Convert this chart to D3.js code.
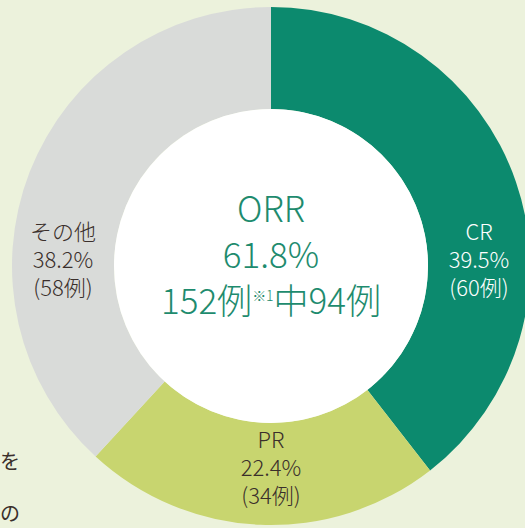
<!DOCTYPE html>
<html>
<head>
<meta charset="utf-8">
<script src="https://cdn.jsdelivr.net/npm/d3@7"></script>
<style>
  body { margin: 0; background: #ecf2dc; }
  svg { display: block; }
  text { font-family: "Noto Sans CJK JP", "Noto Sans", sans-serif; }
</style>
</head>
<body>
<div id="chart"></div>
<script>
// data
var categories = ["CR", "PR", "その他"];
var counts = [60, 34, 58];
var percents = ["39.5%", "22.4%", "38.2%"];
var centerLines = ["ORR", "61.8%"];
var centerTotal = 152, centerHits = 94;

var width = 525, height = 528;
var cx = 271, cy = 266,
    outerR = 259, innerR = 157;

var color = d3.scaleOrdinal()
  .domain(categories)
  .range(["#0c8a6e", "#c8d56f", "#d9dbd9"]);
var labelColor = d3.scaleOrdinal()
  .domain(categories)
  .range(["#ffffff", "#3a2f2b", "#3a2f2b"]);

var svg = d3.select("#chart")
  .append("svg")
    .attr("width", width)
    .attr("height", height);

// fragments of the surrounding page text at the left edge
svg.append("text").attr("x", 0).attr("y", 469)
  .style("font-size", "20px").style("fill", "#3a2f2b").text("を");
svg.append("text").attr("x", 0).attr("y", 521)
  .style("font-size", "20px").style("fill", "#3a2f2b").text("の");

var g = svg.append("g")
  .attr("transform", "translate(" + cx + "," + cy + ")");

var pie = d3.pie().sort(null).value(function(d) { return d.count; });
var arc = d3.arc().innerRadius(innerR).outerRadius(outerR);

var data = categories.map(function(c, i) {
  return {name: c, count: counts[i], pct: percents[i]};
});
var arcs = pie(data);

g.selectAll("path.slice")
  .data(arcs)
  .enter()
  .append("path")
    .attr("class", "slice")
    .attr("d", arc)
    .style("fill", function(d) { return color(d.data.name); });

// white hole
g.append("circle").attr("r", innerR).style("fill", "#ffffff");

// labels sit at mid-ring, snapped to the nearest quarter direction
var midR = (innerR + outerR) / 2;
var lineH = 28;
var labels = g.selectAll("text.label")
  .data(arcs)
  .enter()
  .append("text")
    .attr("class", "label")
    .attr("text-anchor", "middle")
    .style("font-size", "22px")
    .style("font-weight", 300)
    .style("fill", function(d) { return labelColor(d.data.name); })
    .attr("transform", function(d) {
      var a = (d.startAngle + d.endAngle) / 2;
      a = Math.round(a / (Math.PI / 2)) * (Math.PI / 2);
      return "translate(" + (midR * Math.sin(a)) + "," + (-midR * Math.cos(a)) + ")";
    });

labels.each(function(d) {
  var lines = [d.data.name, d.data.pct, "(" + d.data.count + "例)"];
  var sel = d3.select(this);
  lines.forEach(function(t, i) {
    sel.append("tspan")
      .attr("x", 0)
      .attr("y", (i - 1) * lineH + 2)
      .text(t);
  });
});

// centre text
var green = "#1e8b6e";
var centre = g.append("text")
  .attr("text-anchor", "middle")
  .style("font-size", "35px")
  .style("font-weight", 300)
  .style("fill", green);
centerLines.forEach(function(t, i) {
  centre.append("tspan")
    .attr("x", 0)
    .attr("y", -44 + i * 46)
    .text(t);
});
centre.append("tspan").attr("x", 0).attr("y", 48).text(centerTotal + "例");
centre.append("tspan").attr("dy", -13).style("font-size", "14px").text("※1");
centre.append("tspan").attr("dy", 13).text("中" + centerHits + "例");
</script>
</body>
</html>
